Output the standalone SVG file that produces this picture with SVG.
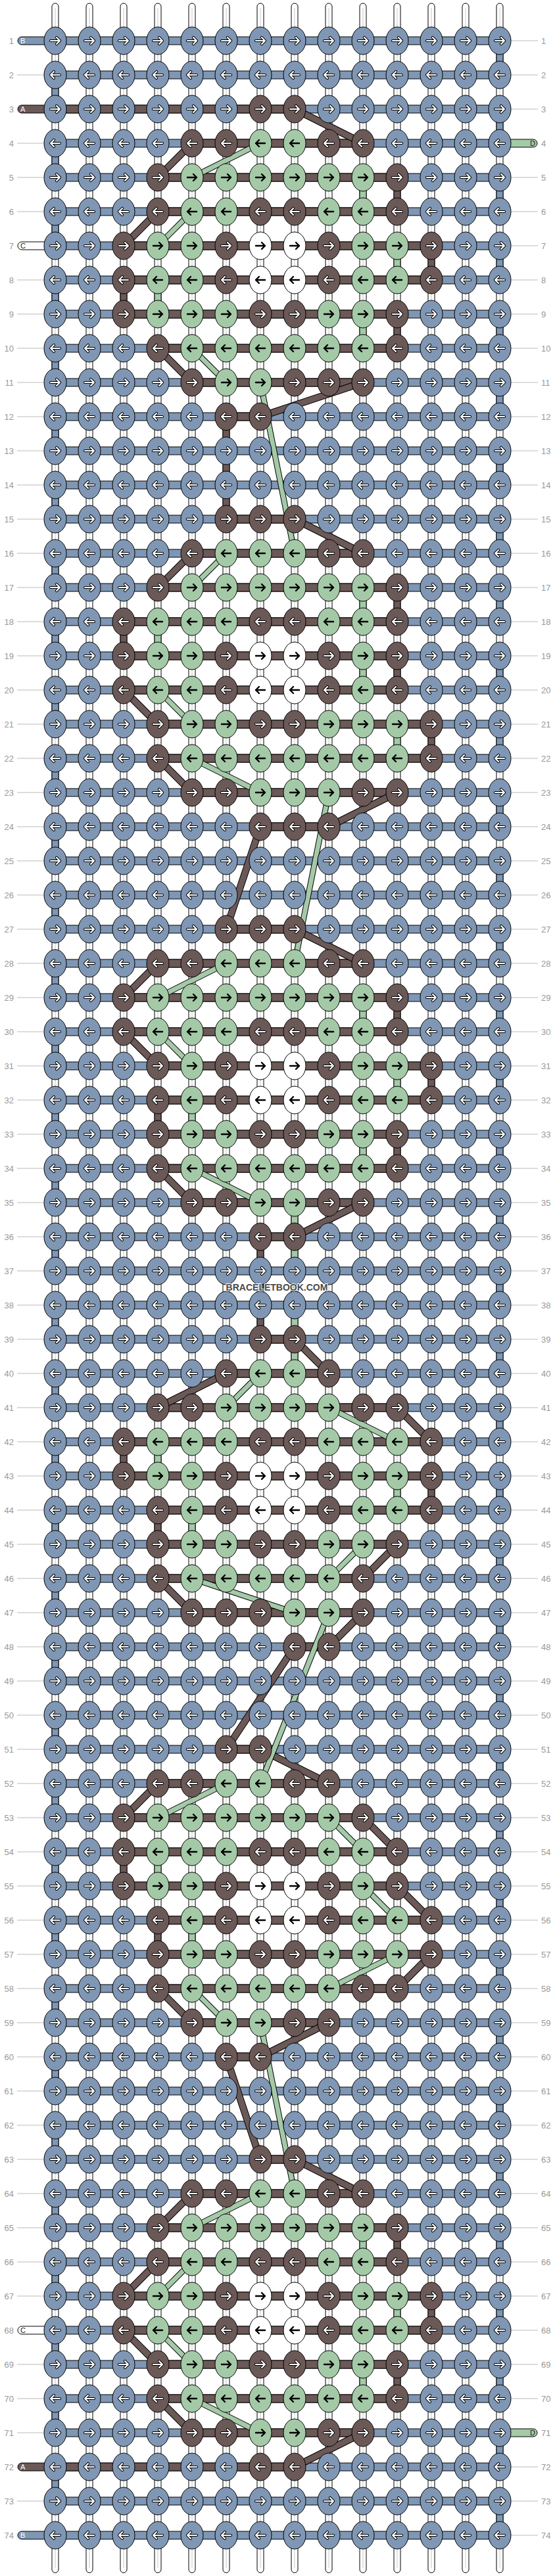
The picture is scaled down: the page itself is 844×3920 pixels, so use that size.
<svg xmlns="http://www.w3.org/2000/svg" xmlns:xlink="http://www.w3.org/1999/xlink" width="844" height="3920" viewBox="0 0 844 3920">
<style>
text{font-family:"Liberation Sans",Arial,sans-serif}
.ln{font-size:13px;fill:#999}
.le{text-anchor:end}
.sl{font-size:11px}
.gl{stroke:#bbb;stroke-width:1;fill:none}
.vs{fill:#fff;stroke:#000;stroke-width:1}
.vg{stroke:#c8c8c8;stroke-width:1;fill:none}
.cb{fill:#7f97b4;stroke:#000;stroke-width:1}
.cr{fill:#6b5957;stroke:#000;stroke-width:1}
.cg{fill:#a4c9a7;stroke:#000;stroke-width:1}
.cw{fill:#fff;stroke:#000;stroke-width:1}
.ao{fill:none;stroke:#000;stroke-width:4.2;stroke-linecap:round;stroke-linejoin:round}
.aw{fill:none;stroke:#fff;stroke-width:2.2;stroke-linecap:round;stroke-linejoin:round}
.ak{fill:none;stroke:#000;stroke-width:2.4;stroke-linecap:round;stroke-linejoin:round}
.dbo{fill:none;stroke:#000;stroke-width:11}
.dbi{fill:none;stroke:#6b5957;stroke-width:9}
.dgo{fill:none;stroke:#000;stroke-width:9}
.dgi{fill:none;stroke:#a4c9a7;stroke-width:7}
</style>
<defs>
<path id="ar" d="M-7,0H7M2,-5L7,0L2,5"/>
<path id="al" d="M7,0H-7M-2,-5L-7,0L-2,5"/>
<g id="Rb"><ellipse class="cb" rx="17" ry="21"/><use href="#ar" class="ao"/><use href="#ar" class="aw"/></g>
<g id="Rr"><ellipse class="cr" rx="17" ry="21"/><use href="#ar" class="ao"/><use href="#ar" class="aw"/></g>
<g id="Rg"><ellipse class="cg" rx="17" ry="21"/><use href="#ar" class="ak"/></g>
<g id="Rw"><ellipse class="cw" rx="17" ry="21"/><use href="#ar" class="ak"/></g>
<g id="Lb"><ellipse class="cb" rx="17" ry="21"/><use href="#al" class="ao"/><use href="#al" class="aw"/></g>
<g id="Lr"><ellipse class="cr" rx="17" ry="21"/><use href="#al" class="ao"/><use href="#al" class="aw"/></g>
<g id="Lg"><ellipse class="cg" rx="17" ry="21"/><use href="#al" class="ak"/></g>
<g id="Lw"><ellipse class="cw" rx="17" ry="21"/><use href="#al" class="ak"/></g>
<path id="dB" d="M448,166L552,218M292,218L240,270M240,322L188,374M240,530L292,582M552,582L396,634M448,790L552,842M292,842L240,894M188,1050L240,1102M240,1154L292,1206M604,1206L500,1258M396,1258L344,1414M448,1414L552,1466M240,1466L188,1518M188,1570L240,1622M240,1778L292,1830M552,1830L448,1882M448,2038L500,2090M344,2090L240,2142M604,2142L656,2194M604,2350L552,2402M240,2402L292,2454M552,2454L500,2506M448,2506L344,2662M396,2662L500,2714M240,2714L188,2766M552,2766L604,2818M604,2870L656,2922M656,2974L604,3026M240,3026L292,3078M500,3078L396,3130M344,3130L396,3286M448,3286L552,3338M292,3338L240,3390M240,3442L188,3494M188,3546L240,3598M240,3650L292,3702M552,3702L448,3754"/>
<path id="dG" d="M396,218L292,270M292,322L240,374M292,530L344,582M396,582L448,842M344,842L292,894M240,1050L292,1102M292,1154L396,1206M500,1206L448,1466M344,1466L240,1518M240,1570L292,1622M292,1778L396,1830M396,2090L344,2142M500,2142L604,2194M552,2350L500,2402M292,2402L448,2454M500,2454L396,2714M344,2714L240,2766M500,2766L552,2818M552,2870L604,2922M604,2974L500,3026M292,3026L344,3078M396,3078L448,3338M396,3338L292,3390M292,3442L240,3494M240,3546L292,3598M292,3650L396,3702"/>
</defs>
<rect width="844" height="3920" fill="#fff"/>
<g id="labels">
<path class="gl" d="M26,114h40M26,218h40M26,270h40M26,322h40M26,426h40M26,478h40M26,530h40M26,582h40M26,634h40M26,686h40M26,738h40M26,790h40M26,842h40M26,894h40M26,946h40M26,998h40M26,1050h40M26,1102h40M26,1154h40M26,1206h40M26,1258h40M26,1310h40M26,1362h40M26,1414h40M26,1466h40M26,1518h40M26,1570h40M26,1622h40M26,1674h40M26,1726h40M26,1778h40M26,1830h40M26,1882h40M26,1934h40M26,1986h40M26,2038h40M26,2090h40M26,2142h40M26,2194h40M26,2246h40M26,2298h40M26,2350h40M26,2402h40M26,2454h40M26,2506h40M26,2558h40M26,2610h40M26,2662h40M26,2714h40M26,2766h40M26,2818h40M26,2870h40M26,2922h40M26,2974h40M26,3026h40M26,3078h40M26,3130h40M26,3182h40M26,3234h40M26,3286h40M26,3338h40M26,3390h40M26,3442h40M26,3494h40M26,3598h40M26,3650h40M26,3702h40M26,3806h40
M778,62h40M778,114h40M778,166h40M778,270h40M778,322h40M778,374h40M778,426h40M778,478h40M778,530h40M778,582h40M778,634h40M778,686h40M778,738h40M778,790h40M778,842h40M778,894h40M778,946h40M778,998h40M778,1050h40M778,1102h40M778,1154h40M778,1206h40M778,1258h40M778,1310h40M778,1362h40M778,1414h40M778,1466h40M778,1518h40M778,1570h40M778,1622h40M778,1674h40M778,1726h40M778,1778h40M778,1830h40M778,1882h40M778,1934h40M778,1986h40M778,2038h40M778,2090h40M778,2142h40M778,2194h40M778,2246h40M778,2298h40M778,2350h40M778,2402h40M778,2454h40M778,2506h40M778,2558h40M778,2610h40M778,2662h40M778,2714h40M778,2766h40M778,2818h40M778,2870h40M778,2922h40M778,2974h40M778,3026h40M778,3078h40M778,3130h40M778,3182h40M778,3234h40M778,3286h40M778,3338h40M778,3390h40M778,3442h40M778,3494h40M778,3546h40M778,3598h40M778,3650h40M778,3754h40M778,3806h40M778,3858h40"/>
<text class="ln le" x="21" y="67">1</text><text class="ln le" x="21" y="119">2</text><text class="ln le" x="21" y="171">3</text><text class="ln le" x="21" y="223">4</text><text class="ln le" x="21" y="275">5</text><text class="ln le" x="21" y="327">6</text><text class="ln le" x="21" y="379">7</text><text class="ln le" x="21" y="431">8</text><text class="ln le" x="21" y="483">9</text><text class="ln le" x="21" y="535">10</text><text class="ln le" x="21" y="587">11</text><text class="ln le" x="21" y="639">12</text><text class="ln le" x="21" y="691">13</text><text class="ln le" x="21" y="743">14</text><text class="ln le" x="21" y="795">15</text><text class="ln le" x="21" y="847">16</text><text class="ln le" x="21" y="899">17</text><text class="ln le" x="21" y="951">18</text><text class="ln le" x="21" y="1003">19</text><text class="ln le" x="21" y="1055">20</text><text class="ln le" x="21" y="1107">21</text><text class="ln le" x="21" y="1159">22</text><text class="ln le" x="21" y="1211">23</text><text class="ln le" x="21" y="1263">24</text><text class="ln le" x="21" y="1315">25</text><text class="ln le" x="21" y="1367">26</text><text class="ln le" x="21" y="1419">27</text><text class="ln le" x="21" y="1471">28</text><text class="ln le" x="21" y="1523">29</text><text class="ln le" x="21" y="1575">30</text><text class="ln le" x="21" y="1627">31</text><text class="ln le" x="21" y="1679">32</text><text class="ln le" x="21" y="1731">33</text><text class="ln le" x="21" y="1783">34</text><text class="ln le" x="21" y="1835">35</text><text class="ln le" x="21" y="1887">36</text><text class="ln le" x="21" y="1939">37</text><text class="ln le" x="21" y="1991">38</text><text class="ln le" x="21" y="2043">39</text><text class="ln le" x="21" y="2095">40</text><text class="ln le" x="21" y="2147">41</text><text class="ln le" x="21" y="2199">42</text><text class="ln le" x="21" y="2251">43</text><text class="ln le" x="21" y="2303">44</text><text class="ln le" x="21" y="2355">45</text><text class="ln le" x="21" y="2407">46</text><text class="ln le" x="21" y="2459">47</text><text class="ln le" x="21" y="2511">48</text><text class="ln le" x="21" y="2563">49</text><text class="ln le" x="21" y="2615">50</text><text class="ln le" x="21" y="2667">51</text><text class="ln le" x="21" y="2719">52</text><text class="ln le" x="21" y="2771">53</text><text class="ln le" x="21" y="2823">54</text><text class="ln le" x="21" y="2875">55</text><text class="ln le" x="21" y="2927">56</text><text class="ln le" x="21" y="2979">57</text><text class="ln le" x="21" y="3031">58</text><text class="ln le" x="21" y="3083">59</text><text class="ln le" x="21" y="3135">60</text><text class="ln le" x="21" y="3187">61</text><text class="ln le" x="21" y="3239">62</text><text class="ln le" x="21" y="3291">63</text><text class="ln le" x="21" y="3343">64</text><text class="ln le" x="21" y="3395">65</text><text class="ln le" x="21" y="3447">66</text><text class="ln le" x="21" y="3499">67</text><text class="ln le" x="21" y="3551">68</text><text class="ln le" x="21" y="3603">69</text><text class="ln le" x="21" y="3655">70</text><text class="ln le" x="21" y="3707">71</text><text class="ln le" x="21" y="3759">72</text><text class="ln le" x="21" y="3811">73</text><text class="ln le" x="21" y="3863">74</text>
<text class="ln" x="823" y="67">1</text><text class="ln" x="823" y="119">2</text><text class="ln" x="823" y="171">3</text><text class="ln" x="823" y="223">4</text><text class="ln" x="823" y="275">5</text><text class="ln" x="823" y="327">6</text><text class="ln" x="823" y="379">7</text><text class="ln" x="823" y="431">8</text><text class="ln" x="823" y="483">9</text><text class="ln" x="823" y="535">10</text><text class="ln" x="823" y="587">11</text><text class="ln" x="823" y="639">12</text><text class="ln" x="823" y="691">13</text><text class="ln" x="823" y="743">14</text><text class="ln" x="823" y="795">15</text><text class="ln" x="823" y="847">16</text><text class="ln" x="823" y="899">17</text><text class="ln" x="823" y="951">18</text><text class="ln" x="823" y="1003">19</text><text class="ln" x="823" y="1055">20</text><text class="ln" x="823" y="1107">21</text><text class="ln" x="823" y="1159">22</text><text class="ln" x="823" y="1211">23</text><text class="ln" x="823" y="1263">24</text><text class="ln" x="823" y="1315">25</text><text class="ln" x="823" y="1367">26</text><text class="ln" x="823" y="1419">27</text><text class="ln" x="823" y="1471">28</text><text class="ln" x="823" y="1523">29</text><text class="ln" x="823" y="1575">30</text><text class="ln" x="823" y="1627">31</text><text class="ln" x="823" y="1679">32</text><text class="ln" x="823" y="1731">33</text><text class="ln" x="823" y="1783">34</text><text class="ln" x="823" y="1835">35</text><text class="ln" x="823" y="1887">36</text><text class="ln" x="823" y="1939">37</text><text class="ln" x="823" y="1991">38</text><text class="ln" x="823" y="2043">39</text><text class="ln" x="823" y="2095">40</text><text class="ln" x="823" y="2147">41</text><text class="ln" x="823" y="2199">42</text><text class="ln" x="823" y="2251">43</text><text class="ln" x="823" y="2303">44</text><text class="ln" x="823" y="2355">45</text><text class="ln" x="823" y="2407">46</text><text class="ln" x="823" y="2459">47</text><text class="ln" x="823" y="2511">48</text><text class="ln" x="823" y="2563">49</text><text class="ln" x="823" y="2615">50</text><text class="ln" x="823" y="2667">51</text><text class="ln" x="823" y="2719">52</text><text class="ln" x="823" y="2771">53</text><text class="ln" x="823" y="2823">54</text><text class="ln" x="823" y="2875">55</text><text class="ln" x="823" y="2927">56</text><text class="ln" x="823" y="2979">57</text><text class="ln" x="823" y="3031">58</text><text class="ln" x="823" y="3083">59</text><text class="ln" x="823" y="3135">60</text><text class="ln" x="823" y="3187">61</text><text class="ln" x="823" y="3239">62</text><text class="ln" x="823" y="3291">63</text><text class="ln" x="823" y="3343">64</text><text class="ln" x="823" y="3395">65</text><text class="ln" x="823" y="3447">66</text><text class="ln" x="823" y="3499">67</text><text class="ln" x="823" y="3551">68</text><text class="ln" x="823" y="3603">69</text><text class="ln" x="823" y="3655">70</text><text class="ln" x="823" y="3707">71</text><text class="ln" x="823" y="3759">72</text><text class="ln" x="823" y="3811">73</text><text class="ln" x="823" y="3863">74</text>
</g>
<g id="connectors">
<g id="vertical-strings">
<rect class="vs" x="79" y="5" width="10" height="3910" rx="5"/><rect class="vs" x="131" y="5" width="10" height="3910" rx="5"/><rect class="vs" x="183" y="5" width="10" height="3910" rx="5"/><rect class="vs" x="235" y="5" width="10" height="3910" rx="5"/><rect class="vs" x="287" y="5" width="10" height="3910" rx="5"/><rect class="vs" x="339" y="5" width="10" height="3910" rx="5"/><rect class="vs" x="391" y="5" width="10" height="3910" rx="5"/><rect class="vs" x="443" y="5" width="10" height="3910" rx="5"/><rect class="vs" x="495" y="5" width="10" height="3910" rx="5"/><rect class="vs" x="547" y="5" width="10" height="3910" rx="5"/><rect class="vs" x="599" y="5" width="10" height="3910" rx="5"/><rect class="vs" x="651" y="5" width="10" height="3910" rx="5"/><rect class="vs" x="703" y="5" width="10" height="3910" rx="5"/><rect class="vs" x="755" y="5" width="10" height="3910" rx="5"/>
<path class="vg" d="M84,12V3908M136,12V3908M188,12V3908M240,12V3908M292,12V3908M344,12V3908M396,12V3908M448,12V3908M500,12V3908M552,12V3908M604,12V3908M656,12V3908M708,12V3908M760,12V3908"/>
</g>
<path id="turns" class="cb" d="M755,62h10v52h-10zM79,114h10v52h-10zM755,166h10v52h-10zM79,218h10v52h-10zM755,270h10v52h-10zM79,322h10v52h-10zM755,374h10v52h-10zM79,426h10v52h-10zM755,478h10v52h-10zM79,530h10v52h-10zM755,582h10v52h-10zM79,634h10v52h-10zM755,686h10v52h-10zM79,738h10v52h-10zM755,790h10v52h-10zM79,842h10v52h-10zM755,894h10v52h-10zM79,946h10v52h-10zM755,998h10v52h-10zM79,1050h10v52h-10zM755,1102h10v52h-10zM79,1154h10v52h-10zM755,1206h10v52h-10zM79,1258h10v52h-10zM755,1310h10v52h-10zM79,1362h10v52h-10zM755,1414h10v52h-10zM79,1466h10v52h-10zM755,1518h10v52h-10zM79,1570h10v52h-10zM755,1622h10v52h-10zM79,1674h10v52h-10zM755,1726h10v52h-10zM79,1778h10v52h-10zM755,1830h10v52h-10zM79,1882h10v52h-10zM755,1934h10v52h-10zM79,1986h10v52h-10zM755,2038h10v52h-10zM79,2090h10v52h-10zM755,2142h10v52h-10zM79,2194h10v52h-10zM755,2246h10v52h-10zM79,2298h10v52h-10zM755,2350h10v52h-10zM79,2402h10v52h-10zM755,2454h10v52h-10zM79,2506h10v52h-10zM755,2558h10v52h-10zM79,2610h10v52h-10zM755,2662h10v52h-10zM79,2714h10v52h-10zM755,2766h10v52h-10zM79,2818h10v52h-10zM755,2870h10v52h-10zM79,2922h10v52h-10zM755,2974h10v52h-10zM79,3026h10v52h-10zM755,3078h10v52h-10zM79,3130h10v52h-10zM755,3182h10v52h-10zM79,3234h10v52h-10zM755,3286h10v52h-10zM79,3338h10v52h-10zM755,3390h10v52h-10zM79,3442h10v52h-10zM755,3494h10v52h-10zM79,3546h10v52h-10zM755,3598h10v52h-10zM79,3650h10v52h-10zM755,3702h10v52h-10zM79,3754h10v52h-10zM755,3806h10v52h-10z"/>
<path id="vbrown" class="cr" d="M599,270h10v52h-10zM651,374h10v52h-10zM183,426h10v52h-10zM599,478h10v52h-10zM339,634h10v156h-10zM599,894h10v52h-10zM183,946h10v52h-10zM599,998h10v52h-10zM651,1102h10v52h-10zM599,1518h10v52h-10zM651,1622h10v52h-10zM235,1674h10v52h-10zM599,1726h10v52h-10zM391,1882h10v156h-10zM183,2194h10v52h-10zM651,2246h10v52h-10zM235,2298h10v52h-10zM183,2818h10v52h-10zM235,2922h10v52h-10zM599,3390h10v52h-10zM651,3494h10v52h-10zM599,3598h10v52h-10z"/>
<path id="vgreen" class="cg" d="M547,270h10v52h-10zM599,374h10v52h-10zM235,426h10v52h-10zM547,478h10v52h-10zM547,894h10v52h-10zM235,946h10v52h-10zM547,998h10v52h-10zM599,1102h10v52h-10zM547,1518h10v52h-10zM599,1622h10v52h-10zM287,1674h10v52h-10zM547,1726h10v52h-10zM443,1830h10v260h-10zM235,2194h10v52h-10zM599,2246h10v52h-10zM287,2298h10v52h-10zM235,2818h10v52h-10zM287,2922h10v52h-10zM547,3390h10v52h-10zM599,3494h10v52h-10zM547,3598h10v52h-10z"/>
<path id="hblue" class="cb" d="M84,56h676v12h-676zM84,108h676v12h-676zM84,160h676v12h-676zM84,212h676v12h-676zM84,264h676v12h-676zM84,316h676v12h-676zM84,368h676v12h-676zM84,420h676v12h-676zM84,472h676v12h-676zM84,524h676v12h-676zM84,576h676v12h-676zM84,628h676v12h-676zM84,680h676v12h-676zM84,732h676v12h-676zM84,784h676v12h-676zM84,836h676v12h-676zM84,888h676v12h-676zM84,940h676v12h-676zM84,992h676v12h-676zM84,1044h676v12h-676zM84,1096h676v12h-676zM84,1148h676v12h-676zM84,1200h676v12h-676zM84,1252h676v12h-676zM84,1304h676v12h-676zM84,1356h676v12h-676zM84,1408h676v12h-676zM84,1460h676v12h-676zM84,1512h676v12h-676zM84,1564h676v12h-676zM84,1616h676v12h-676zM84,1668h676v12h-676zM84,1720h676v12h-676zM84,1772h676v12h-676zM84,1824h676v12h-676zM84,1876h676v12h-676zM84,1928h676v12h-676zM84,1980h676v12h-676zM84,2032h676v12h-676zM84,2084h676v12h-676zM84,2136h676v12h-676zM84,2188h676v12h-676zM84,2240h676v12h-676zM84,2292h676v12h-676zM84,2344h676v12h-676zM84,2396h676v12h-676zM84,2448h676v12h-676zM84,2500h676v12h-676zM84,2552h676v12h-676zM84,2604h676v12h-676zM84,2656h676v12h-676zM84,2708h676v12h-676zM84,2760h676v12h-676zM84,2812h676v12h-676zM84,2864h676v12h-676zM84,2916h676v12h-676zM84,2968h676v12h-676zM84,3020h676v12h-676zM84,3072h676v12h-676zM84,3124h676v12h-676zM84,3176h676v12h-676zM84,3228h676v12h-676zM84,3280h676v12h-676zM84,3332h676v12h-676zM84,3384h676v12h-676zM84,3436h676v12h-676zM84,3488h676v12h-676zM84,3540h676v12h-676zM84,3592h676v12h-676zM84,3644h676v12h-676zM84,3696h676v12h-676zM84,3748h676v12h-676zM84,3800h676v12h-676zM84,3852h676v12h-676z"/>
<path id="hbrown" class="cr" d="M292,212h260v12h-260zM240,264h364v12h-364zM240,316h364v12h-364zM188,368h468v12h-468zM188,420h468v12h-468zM188,472h416v12h-416zM240,524h364v12h-364zM292,576h260v12h-260zM344,628h52v12h-52zM344,784h104v12h-104zM292,836h260v12h-260zM240,888h364v12h-364zM188,940h416v12h-416zM188,992h416v12h-416zM188,1044h416v12h-416zM240,1096h416v12h-416zM240,1148h416v12h-416zM292,1200h312v12h-312zM396,1252h104v12h-104zM344,1408h104v12h-104zM240,1460h312v12h-312zM188,1512h416v12h-416zM188,1564h416v12h-416zM240,1616h416v12h-416zM240,1668h416v12h-416zM240,1720h364v12h-364zM240,1772h364v12h-364zM292,1824h260v12h-260zM396,1876h52v12h-52zM396,2032h52v12h-52zM344,2084h156v12h-156zM240,2136h364v12h-364zM188,2188h468v12h-468zM188,2240h468v12h-468zM240,2292h416v12h-416zM240,2344h364v12h-364zM240,2396h312v12h-312zM292,2448h260v12h-260zM448,2500h52v12h-52zM344,2656h52v12h-52zM240,2708h260v12h-260zM188,2760h364v12h-364zM188,2812h416v12h-416zM188,2864h416v12h-416zM240,2916h416v12h-416zM240,2968h416v12h-416zM240,3020h364v12h-364zM292,3072h208v12h-208zM344,3124h52v12h-52zM396,3280h52v12h-52zM292,3332h260v12h-260zM240,3384h364v12h-364zM240,3436h364v12h-364zM188,3488h468v12h-468zM188,3540h468v12h-468zM240,3592h364v12h-364zM240,3644h364v12h-364zM292,3696h260v12h-260z"/>
<g id="side-strings">
<path class="cb" d="M84,56H33a6,6 0 0 0 0,12H84z"/><text class="sl" x="31" y="66" fill="#fff">B</text>
<path class="cr" d="M448,160H33a6,6 0 0 0 0,12H448z"/><text class="sl" x="31" y="170" fill="#fff">A</text>
<path class="cg" d="M760,212H811a6,6 0 0 1 0,12H760z"/><text class="sl" x="806" y="222" fill="#222">D</text>
<path class="cw" d="M84,368H33a6,6 0 0 0 0,12H84z"/><text class="sl" x="31" y="378" fill="#222">C</text>
<path class="cw" d="M84,3540H33a6,6 0 0 0 0,12H84z"/><text class="sl" x="31" y="3550" fill="#222">C</text>
<path class="cg" d="M760,3696H811a6,6 0 0 1 0,12H760z"/><text class="sl" x="806" y="3706" fill="#222">D</text>
<path class="cr" d="M448,3748H33a6,6 0 0 0 0,12H448z"/><text class="sl" x="31" y="3758" fill="#fff">A</text>
<path class="cb" d="M84,3852H33a6,6 0 0 0 0,12H84z"/><text class="sl" x="31" y="3862" fill="#fff">B</text>
</g>
<g id="diagonals">
<use href="#dB" class="dbo"/><use href="#dB" class="dbi"/><use href="#dG" class="dgo"/><use href="#dG" class="dgi"/>
</g>
</g>
<g id="knots">
<g id="row1" transform="translate(0,62)"><g id="k1_1"><use href="#Rb" x="84"/></g><g id="k1_2"><use href="#Rb" x="136"/></g><g id="k1_3"><use href="#Rb" x="188"/></g><g id="k1_4"><use href="#Rb" x="240"/></g><g id="k1_5"><use href="#Rb" x="292"/></g><g id="k1_6"><use href="#Rb" x="344"/></g><g id="k1_7"><use href="#Rb" x="396"/></g><g id="k1_8"><use href="#Rb" x="448"/></g><g id="k1_9"><use href="#Rb" x="500"/></g><g id="k1_10"><use href="#Rb" x="552"/></g><g id="k1_11"><use href="#Rb" x="604"/></g><g id="k1_12"><use href="#Rb" x="656"/></g><g id="k1_13"><use href="#Rb" x="708"/></g><g id="k1_14"><use href="#Rb" x="760"/></g></g>
<g id="row2" transform="translate(0,114)"><g id="k2_1"><use href="#Lb" x="84"/></g><g id="k2_2"><use href="#Lb" x="136"/></g><g id="k2_3"><use href="#Lb" x="188"/></g><g id="k2_4"><use href="#Lb" x="240"/></g><g id="k2_5"><use href="#Lb" x="292"/></g><g id="k2_6"><use href="#Lb" x="344"/></g><g id="k2_7"><use href="#Lb" x="396"/></g><g id="k2_8"><use href="#Lb" x="448"/></g><g id="k2_9"><use href="#Lb" x="500"/></g><g id="k2_10"><use href="#Lb" x="552"/></g><g id="k2_11"><use href="#Lb" x="604"/></g><g id="k2_12"><use href="#Lb" x="656"/></g><g id="k2_13"><use href="#Lb" x="708"/></g><g id="k2_14"><use href="#Lb" x="760"/></g></g>
<g id="row3" transform="translate(0,166)"><g id="k3_1"><use href="#Rb" x="84"/></g><g id="k3_2"><use href="#Rb" x="136"/></g><g id="k3_3"><use href="#Rb" x="188"/></g><g id="k3_4"><use href="#Rb" x="240"/></g><g id="k3_5"><use href="#Rb" x="292"/></g><g id="k3_6"><use href="#Rb" x="344"/></g><g id="k3_7"><use href="#Rr" x="396"/></g><g id="k3_8"><use href="#Rr" x="448"/></g><g id="k3_9"><use href="#Rb" x="500"/></g><g id="k3_10"><use href="#Rb" x="552"/></g><g id="k3_11"><use href="#Rb" x="604"/></g><g id="k3_12"><use href="#Rb" x="656"/></g><g id="k3_13"><use href="#Rb" x="708"/></g><g id="k3_14"><use href="#Rb" x="760"/></g></g>
<g id="row4" transform="translate(0,218)"><g id="k4_1"><use href="#Lb" x="84"/></g><g id="k4_2"><use href="#Lb" x="136"/></g><g id="k4_3"><use href="#Lb" x="188"/></g><g id="k4_4"><use href="#Lb" x="240"/></g><g id="k4_5"><use href="#Lr" x="292"/></g><g id="k4_6"><use href="#Lr" x="344"/></g><g id="k4_7"><use href="#Lg" x="396"/></g><g id="k4_8"><use href="#Lg" x="448"/></g><g id="k4_9"><use href="#Lr" x="500"/></g><g id="k4_10"><use href="#Lr" x="552"/></g><g id="k4_11"><use href="#Lb" x="604"/></g><g id="k4_12"><use href="#Lb" x="656"/></g><g id="k4_13"><use href="#Lb" x="708"/></g><g id="k4_14"><use href="#Lb" x="760"/></g></g>
<g id="row5" transform="translate(0,270)"><g id="k5_1"><use href="#Rb" x="84"/></g><g id="k5_2"><use href="#Rb" x="136"/></g><g id="k5_3"><use href="#Rb" x="188"/></g><g id="k5_4"><use href="#Rr" x="240"/></g><g id="k5_5"><use href="#Rg" x="292"/></g><g id="k5_6"><use href="#Rg" x="344"/></g><g id="k5_7"><use href="#Rg" x="396"/></g><g id="k5_8"><use href="#Rg" x="448"/></g><g id="k5_9"><use href="#Rg" x="500"/></g><g id="k5_10"><use href="#Rg" x="552"/></g><g id="k5_11"><use href="#Rr" x="604"/></g><g id="k5_12"><use href="#Rb" x="656"/></g><g id="k5_13"><use href="#Rb" x="708"/></g><g id="k5_14"><use href="#Rb" x="760"/></g></g>
<g id="row6" transform="translate(0,322)"><g id="k6_1"><use href="#Lb" x="84"/></g><g id="k6_2"><use href="#Lb" x="136"/></g><g id="k6_3"><use href="#Lb" x="188"/></g><g id="k6_4"><use href="#Lr" x="240"/></g><g id="k6_5"><use href="#Lg" x="292"/></g><g id="k6_6"><use href="#Lg" x="344"/></g><g id="k6_7"><use href="#Lr" x="396"/></g><g id="k6_8"><use href="#Lr" x="448"/></g><g id="k6_9"><use href="#Lg" x="500"/></g><g id="k6_10"><use href="#Lg" x="552"/></g><g id="k6_11"><use href="#Lr" x="604"/></g><g id="k6_12"><use href="#Lb" x="656"/></g><g id="k6_13"><use href="#Lb" x="708"/></g><g id="k6_14"><use href="#Lb" x="760"/></g></g>
<g id="row7" transform="translate(0,374)"><g id="k7_1"><use href="#Rb" x="84"/></g><g id="k7_2"><use href="#Rb" x="136"/></g><g id="k7_3"><use href="#Rr" x="188"/></g><g id="k7_4"><use href="#Rg" x="240"/></g><g id="k7_5"><use href="#Rg" x="292"/></g><g id="k7_6"><use href="#Rr" x="344"/></g><g id="k7_7"><use href="#Rw" x="396"/></g><g id="k7_8"><use href="#Rw" x="448"/></g><g id="k7_9"><use href="#Rr" x="500"/></g><g id="k7_10"><use href="#Rg" x="552"/></g><g id="k7_11"><use href="#Rg" x="604"/></g><g id="k7_12"><use href="#Rr" x="656"/></g><g id="k7_13"><use href="#Rb" x="708"/></g><g id="k7_14"><use href="#Rb" x="760"/></g></g>
<g id="row8" transform="translate(0,426)"><g id="k8_1"><use href="#Lb" x="84"/></g><g id="k8_2"><use href="#Lb" x="136"/></g><g id="k8_3"><use href="#Lr" x="188"/></g><g id="k8_4"><use href="#Lg" x="240"/></g><g id="k8_5"><use href="#Lg" x="292"/></g><g id="k8_6"><use href="#Lr" x="344"/></g><g id="k8_7"><use href="#Lw" x="396"/></g><g id="k8_8"><use href="#Lw" x="448"/></g><g id="k8_9"><use href="#Lr" x="500"/></g><g id="k8_10"><use href="#Lg" x="552"/></g><g id="k8_11"><use href="#Lg" x="604"/></g><g id="k8_12"><use href="#Lr" x="656"/></g><g id="k8_13"><use href="#Lb" x="708"/></g><g id="k8_14"><use href="#Lb" x="760"/></g></g>
<g id="row9" transform="translate(0,478)"><g id="k9_1"><use href="#Rb" x="84"/></g><g id="k9_2"><use href="#Rb" x="136"/></g><g id="k9_3"><use href="#Rr" x="188"/></g><g id="k9_4"><use href="#Rg" x="240"/></g><g id="k9_5"><use href="#Rg" x="292"/></g><g id="k9_6"><use href="#Rg" x="344"/></g><g id="k9_7"><use href="#Rr" x="396"/></g><g id="k9_8"><use href="#Rr" x="448"/></g><g id="k9_9"><use href="#Rg" x="500"/></g><g id="k9_10"><use href="#Rg" x="552"/></g><g id="k9_11"><use href="#Rr" x="604"/></g><g id="k9_12"><use href="#Rb" x="656"/></g><g id="k9_13"><use href="#Rb" x="708"/></g><g id="k9_14"><use href="#Rb" x="760"/></g></g>
<g id="row10" transform="translate(0,530)"><g id="k10_1"><use href="#Lb" x="84"/></g><g id="k10_2"><use href="#Lb" x="136"/></g><g id="k10_3"><use href="#Lb" x="188"/></g><g id="k10_4"><use href="#Lr" x="240"/></g><g id="k10_5"><use href="#Lg" x="292"/></g><g id="k10_6"><use href="#Lg" x="344"/></g><g id="k10_7"><use href="#Lg" x="396"/></g><g id="k10_8"><use href="#Lg" x="448"/></g><g id="k10_9"><use href="#Lg" x="500"/></g><g id="k10_10"><use href="#Lg" x="552"/></g><g id="k10_11"><use href="#Lr" x="604"/></g><g id="k10_12"><use href="#Lb" x="656"/></g><g id="k10_13"><use href="#Lb" x="708"/></g><g id="k10_14"><use href="#Lb" x="760"/></g></g>
<g id="row11" transform="translate(0,582)"><g id="k11_1"><use href="#Rb" x="84"/></g><g id="k11_2"><use href="#Rb" x="136"/></g><g id="k11_3"><use href="#Rb" x="188"/></g><g id="k11_4"><use href="#Rb" x="240"/></g><g id="k11_5"><use href="#Rr" x="292"/></g><g id="k11_6"><use href="#Rg" x="344"/></g><g id="k11_7"><use href="#Rg" x="396"/></g><g id="k11_8"><use href="#Rr" x="448"/></g><g id="k11_9"><use href="#Rr" x="500"/></g><g id="k11_10"><use href="#Rr" x="552"/></g><g id="k11_11"><use href="#Rb" x="604"/></g><g id="k11_12"><use href="#Rb" x="656"/></g><g id="k11_13"><use href="#Rb" x="708"/></g><g id="k11_14"><use href="#Rb" x="760"/></g></g>
<g id="row12" transform="translate(0,634)"><g id="k12_1"><use href="#Lb" x="84"/></g><g id="k12_2"><use href="#Lb" x="136"/></g><g id="k12_3"><use href="#Lb" x="188"/></g><g id="k12_4"><use href="#Lb" x="240"/></g><g id="k12_5"><use href="#Lb" x="292"/></g><g id="k12_6"><use href="#Lr" x="344"/></g><g id="k12_7"><use href="#Lr" x="396"/></g><g id="k12_8"><use href="#Lb" x="448"/></g><g id="k12_9"><use href="#Lb" x="500"/></g><g id="k12_10"><use href="#Lb" x="552"/></g><g id="k12_11"><use href="#Lb" x="604"/></g><g id="k12_12"><use href="#Lb" x="656"/></g><g id="k12_13"><use href="#Lb" x="708"/></g><g id="k12_14"><use href="#Lb" x="760"/></g></g>
<g id="row13" transform="translate(0,686)"><g id="k13_1"><use href="#Rb" x="84"/></g><g id="k13_2"><use href="#Rb" x="136"/></g><g id="k13_3"><use href="#Rb" x="188"/></g><g id="k13_4"><use href="#Rb" x="240"/></g><g id="k13_5"><use href="#Rb" x="292"/></g><g id="k13_6"><use href="#Rb" x="344"/></g><g id="k13_7"><use href="#Rb" x="396"/></g><g id="k13_8"><use href="#Rb" x="448"/></g><g id="k13_9"><use href="#Rb" x="500"/></g><g id="k13_10"><use href="#Rb" x="552"/></g><g id="k13_11"><use href="#Rb" x="604"/></g><g id="k13_12"><use href="#Rb" x="656"/></g><g id="k13_13"><use href="#Rb" x="708"/></g><g id="k13_14"><use href="#Rb" x="760"/></g></g>
<g id="row14" transform="translate(0,738)"><g id="k14_1"><use href="#Lb" x="84"/></g><g id="k14_2"><use href="#Lb" x="136"/></g><g id="k14_3"><use href="#Lb" x="188"/></g><g id="k14_4"><use href="#Lb" x="240"/></g><g id="k14_5"><use href="#Lb" x="292"/></g><g id="k14_6"><use href="#Lb" x="344"/></g><g id="k14_7"><use href="#Lb" x="396"/></g><g id="k14_8"><use href="#Lb" x="448"/></g><g id="k14_9"><use href="#Lb" x="500"/></g><g id="k14_10"><use href="#Lb" x="552"/></g><g id="k14_11"><use href="#Lb" x="604"/></g><g id="k14_12"><use href="#Lb" x="656"/></g><g id="k14_13"><use href="#Lb" x="708"/></g><g id="k14_14"><use href="#Lb" x="760"/></g></g>
<g id="row15" transform="translate(0,790)"><g id="k15_1"><use href="#Rb" x="84"/></g><g id="k15_2"><use href="#Rb" x="136"/></g><g id="k15_3"><use href="#Rb" x="188"/></g><g id="k15_4"><use href="#Rb" x="240"/></g><g id="k15_5"><use href="#Rb" x="292"/></g><g id="k15_6"><use href="#Rr" x="344"/></g><g id="k15_7"><use href="#Rr" x="396"/></g><g id="k15_8"><use href="#Rr" x="448"/></g><g id="k15_9"><use href="#Rb" x="500"/></g><g id="k15_10"><use href="#Rb" x="552"/></g><g id="k15_11"><use href="#Rb" x="604"/></g><g id="k15_12"><use href="#Rb" x="656"/></g><g id="k15_13"><use href="#Rb" x="708"/></g><g id="k15_14"><use href="#Rb" x="760"/></g></g>
<g id="row16" transform="translate(0,842)"><g id="k16_1"><use href="#Lb" x="84"/></g><g id="k16_2"><use href="#Lb" x="136"/></g><g id="k16_3"><use href="#Lb" x="188"/></g><g id="k16_4"><use href="#Lb" x="240"/></g><g id="k16_5"><use href="#Lr" x="292"/></g><g id="k16_6"><use href="#Lg" x="344"/></g><g id="k16_7"><use href="#Lg" x="396"/></g><g id="k16_8"><use href="#Lg" x="448"/></g><g id="k16_9"><use href="#Lr" x="500"/></g><g id="k16_10"><use href="#Lr" x="552"/></g><g id="k16_11"><use href="#Lb" x="604"/></g><g id="k16_12"><use href="#Lb" x="656"/></g><g id="k16_13"><use href="#Lb" x="708"/></g><g id="k16_14"><use href="#Lb" x="760"/></g></g>
<g id="row17" transform="translate(0,894)"><g id="k17_1"><use href="#Rb" x="84"/></g><g id="k17_2"><use href="#Rb" x="136"/></g><g id="k17_3"><use href="#Rb" x="188"/></g><g id="k17_4"><use href="#Rr" x="240"/></g><g id="k17_5"><use href="#Rg" x="292"/></g><g id="k17_6"><use href="#Rg" x="344"/></g><g id="k17_7"><use href="#Rg" x="396"/></g><g id="k17_8"><use href="#Rg" x="448"/></g><g id="k17_9"><use href="#Rg" x="500"/></g><g id="k17_10"><use href="#Rg" x="552"/></g><g id="k17_11"><use href="#Rr" x="604"/></g><g id="k17_12"><use href="#Rb" x="656"/></g><g id="k17_13"><use href="#Rb" x="708"/></g><g id="k17_14"><use href="#Rb" x="760"/></g></g>
<g id="row18" transform="translate(0,946)"><g id="k18_1"><use href="#Lb" x="84"/></g><g id="k18_2"><use href="#Lb" x="136"/></g><g id="k18_3"><use href="#Lr" x="188"/></g><g id="k18_4"><use href="#Lg" x="240"/></g><g id="k18_5"><use href="#Lg" x="292"/></g><g id="k18_6"><use href="#Lg" x="344"/></g><g id="k18_7"><use href="#Lr" x="396"/></g><g id="k18_8"><use href="#Lr" x="448"/></g><g id="k18_9"><use href="#Lg" x="500"/></g><g id="k18_10"><use href="#Lg" x="552"/></g><g id="k18_11"><use href="#Lr" x="604"/></g><g id="k18_12"><use href="#Lb" x="656"/></g><g id="k18_13"><use href="#Lb" x="708"/></g><g id="k18_14"><use href="#Lb" x="760"/></g></g>
<g id="row19" transform="translate(0,998)"><g id="k19_1"><use href="#Rb" x="84"/></g><g id="k19_2"><use href="#Rb" x="136"/></g><g id="k19_3"><use href="#Rr" x="188"/></g><g id="k19_4"><use href="#Rg" x="240"/></g><g id="k19_5"><use href="#Rg" x="292"/></g><g id="k19_6"><use href="#Rr" x="344"/></g><g id="k19_7"><use href="#Rw" x="396"/></g><g id="k19_8"><use href="#Rw" x="448"/></g><g id="k19_9"><use href="#Rr" x="500"/></g><g id="k19_10"><use href="#Rg" x="552"/></g><g id="k19_11"><use href="#Rr" x="604"/></g><g id="k19_12"><use href="#Rb" x="656"/></g><g id="k19_13"><use href="#Rb" x="708"/></g><g id="k19_14"><use href="#Rb" x="760"/></g></g>
<g id="row20" transform="translate(0,1050)"><g id="k20_1"><use href="#Lb" x="84"/></g><g id="k20_2"><use href="#Lb" x="136"/></g><g id="k20_3"><use href="#Lr" x="188"/></g><g id="k20_4"><use href="#Lg" x="240"/></g><g id="k20_5"><use href="#Lg" x="292"/></g><g id="k20_6"><use href="#Lr" x="344"/></g><g id="k20_7"><use href="#Lw" x="396"/></g><g id="k20_8"><use href="#Lw" x="448"/></g><g id="k20_9"><use href="#Lr" x="500"/></g><g id="k20_10"><use href="#Lg" x="552"/></g><g id="k20_11"><use href="#Lr" x="604"/></g><g id="k20_12"><use href="#Lb" x="656"/></g><g id="k20_13"><use href="#Lb" x="708"/></g><g id="k20_14"><use href="#Lb" x="760"/></g></g>
<g id="row21" transform="translate(0,1102)"><g id="k21_1"><use href="#Rb" x="84"/></g><g id="k21_2"><use href="#Rb" x="136"/></g><g id="k21_3"><use href="#Rb" x="188"/></g><g id="k21_4"><use href="#Rr" x="240"/></g><g id="k21_5"><use href="#Rg" x="292"/></g><g id="k21_6"><use href="#Rg" x="344"/></g><g id="k21_7"><use href="#Rr" x="396"/></g><g id="k21_8"><use href="#Rr" x="448"/></g><g id="k21_9"><use href="#Rg" x="500"/></g><g id="k21_10"><use href="#Rg" x="552"/></g><g id="k21_11"><use href="#Rg" x="604"/></g><g id="k21_12"><use href="#Rr" x="656"/></g><g id="k21_13"><use href="#Rb" x="708"/></g><g id="k21_14"><use href="#Rb" x="760"/></g></g>
<g id="row22" transform="translate(0,1154)"><g id="k22_1"><use href="#Lb" x="84"/></g><g id="k22_2"><use href="#Lb" x="136"/></g><g id="k22_3"><use href="#Lb" x="188"/></g><g id="k22_4"><use href="#Lr" x="240"/></g><g id="k22_5"><use href="#Lg" x="292"/></g><g id="k22_6"><use href="#Lg" x="344"/></g><g id="k22_7"><use href="#Lg" x="396"/></g><g id="k22_8"><use href="#Lg" x="448"/></g><g id="k22_9"><use href="#Lg" x="500"/></g><g id="k22_10"><use href="#Lg" x="552"/></g><g id="k22_11"><use href="#Lg" x="604"/></g><g id="k22_12"><use href="#Lr" x="656"/></g><g id="k22_13"><use href="#Lb" x="708"/></g><g id="k22_14"><use href="#Lb" x="760"/></g></g>
<g id="row23" transform="translate(0,1206)"><g id="k23_1"><use href="#Rb" x="84"/></g><g id="k23_2"><use href="#Rb" x="136"/></g><g id="k23_3"><use href="#Rb" x="188"/></g><g id="k23_4"><use href="#Rb" x="240"/></g><g id="k23_5"><use href="#Rr" x="292"/></g><g id="k23_6"><use href="#Rr" x="344"/></g><g id="k23_7"><use href="#Rg" x="396"/></g><g id="k23_8"><use href="#Rg" x="448"/></g><g id="k23_9"><use href="#Rg" x="500"/></g><g id="k23_10"><use href="#Rr" x="552"/></g><g id="k23_11"><use href="#Rr" x="604"/></g><g id="k23_12"><use href="#Rb" x="656"/></g><g id="k23_13"><use href="#Rb" x="708"/></g><g id="k23_14"><use href="#Rb" x="760"/></g></g>
<g id="row24" transform="translate(0,1258)"><g id="k24_1"><use href="#Lb" x="84"/></g><g id="k24_2"><use href="#Lb" x="136"/></g><g id="k24_3"><use href="#Lb" x="188"/></g><g id="k24_4"><use href="#Lb" x="240"/></g><g id="k24_5"><use href="#Lb" x="292"/></g><g id="k24_6"><use href="#Lb" x="344"/></g><g id="k24_7"><use href="#Lr" x="396"/></g><g id="k24_8"><use href="#Lr" x="448"/></g><g id="k24_9"><use href="#Lr" x="500"/></g><g id="k24_10"><use href="#Lb" x="552"/></g><g id="k24_11"><use href="#Lb" x="604"/></g><g id="k24_12"><use href="#Lb" x="656"/></g><g id="k24_13"><use href="#Lb" x="708"/></g><g id="k24_14"><use href="#Lb" x="760"/></g></g>
<g id="row25" transform="translate(0,1310)"><g id="k25_1"><use href="#Rb" x="84"/></g><g id="k25_2"><use href="#Rb" x="136"/></g><g id="k25_3"><use href="#Rb" x="188"/></g><g id="k25_4"><use href="#Rb" x="240"/></g><g id="k25_5"><use href="#Rb" x="292"/></g><g id="k25_6"><use href="#Rb" x="344"/></g><g id="k25_7"><use href="#Rb" x="396"/></g><g id="k25_8"><use href="#Rb" x="448"/></g><g id="k25_9"><use href="#Rb" x="500"/></g><g id="k25_10"><use href="#Rb" x="552"/></g><g id="k25_11"><use href="#Rb" x="604"/></g><g id="k25_12"><use href="#Rb" x="656"/></g><g id="k25_13"><use href="#Rb" x="708"/></g><g id="k25_14"><use href="#Rb" x="760"/></g></g>
<g id="row26" transform="translate(0,1362)"><g id="k26_1"><use href="#Lb" x="84"/></g><g id="k26_2"><use href="#Lb" x="136"/></g><g id="k26_3"><use href="#Lb" x="188"/></g><g id="k26_4"><use href="#Lb" x="240"/></g><g id="k26_5"><use href="#Lb" x="292"/></g><g id="k26_6"><use href="#Lb" x="344"/></g><g id="k26_7"><use href="#Lb" x="396"/></g><g id="k26_8"><use href="#Lb" x="448"/></g><g id="k26_9"><use href="#Lb" x="500"/></g><g id="k26_10"><use href="#Lb" x="552"/></g><g id="k26_11"><use href="#Lb" x="604"/></g><g id="k26_12"><use href="#Lb" x="656"/></g><g id="k26_13"><use href="#Lb" x="708"/></g><g id="k26_14"><use href="#Lb" x="760"/></g></g>
<g id="row27" transform="translate(0,1414)"><g id="k27_1"><use href="#Rb" x="84"/></g><g id="k27_2"><use href="#Rb" x="136"/></g><g id="k27_3"><use href="#Rb" x="188"/></g><g id="k27_4"><use href="#Rb" x="240"/></g><g id="k27_5"><use href="#Rb" x="292"/></g><g id="k27_6"><use href="#Rr" x="344"/></g><g id="k27_7"><use href="#Rr" x="396"/></g><g id="k27_8"><use href="#Rr" x="448"/></g><g id="k27_9"><use href="#Rb" x="500"/></g><g id="k27_10"><use href="#Rb" x="552"/></g><g id="k27_11"><use href="#Rb" x="604"/></g><g id="k27_12"><use href="#Rb" x="656"/></g><g id="k27_13"><use href="#Rb" x="708"/></g><g id="k27_14"><use href="#Rb" x="760"/></g></g>
<g id="row28" transform="translate(0,1466)"><g id="k28_1"><use href="#Lb" x="84"/></g><g id="k28_2"><use href="#Lb" x="136"/></g><g id="k28_3"><use href="#Lb" x="188"/></g><g id="k28_4"><use href="#Lr" x="240"/></g><g id="k28_5"><use href="#Lr" x="292"/></g><g id="k28_6"><use href="#Lg" x="344"/></g><g id="k28_7"><use href="#Lg" x="396"/></g><g id="k28_8"><use href="#Lg" x="448"/></g><g id="k28_9"><use href="#Lr" x="500"/></g><g id="k28_10"><use href="#Lr" x="552"/></g><g id="k28_11"><use href="#Lb" x="604"/></g><g id="k28_12"><use href="#Lb" x="656"/></g><g id="k28_13"><use href="#Lb" x="708"/></g><g id="k28_14"><use href="#Lb" x="760"/></g></g>
<g id="row29" transform="translate(0,1518)"><g id="k29_1"><use href="#Rb" x="84"/></g><g id="k29_2"><use href="#Rb" x="136"/></g><g id="k29_3"><use href="#Rr" x="188"/></g><g id="k29_4"><use href="#Rg" x="240"/></g><g id="k29_5"><use href="#Rg" x="292"/></g><g id="k29_6"><use href="#Rg" x="344"/></g><g id="k29_7"><use href="#Rg" x="396"/></g><g id="k29_8"><use href="#Rg" x="448"/></g><g id="k29_9"><use href="#Rg" x="500"/></g><g id="k29_10"><use href="#Rg" x="552"/></g><g id="k29_11"><use href="#Rr" x="604"/></g><g id="k29_12"><use href="#Rb" x="656"/></g><g id="k29_13"><use href="#Rb" x="708"/></g><g id="k29_14"><use href="#Rb" x="760"/></g></g>
<g id="row30" transform="translate(0,1570)"><g id="k30_1"><use href="#Lb" x="84"/></g><g id="k30_2"><use href="#Lb" x="136"/></g><g id="k30_3"><use href="#Lr" x="188"/></g><g id="k30_4"><use href="#Lg" x="240"/></g><g id="k30_5"><use href="#Lg" x="292"/></g><g id="k30_6"><use href="#Lg" x="344"/></g><g id="k30_7"><use href="#Lr" x="396"/></g><g id="k30_8"><use href="#Lr" x="448"/></g><g id="k30_9"><use href="#Lg" x="500"/></g><g id="k30_10"><use href="#Lg" x="552"/></g><g id="k30_11"><use href="#Lr" x="604"/></g><g id="k30_12"><use href="#Lb" x="656"/></g><g id="k30_13"><use href="#Lb" x="708"/></g><g id="k30_14"><use href="#Lb" x="760"/></g></g>
<g id="row31" transform="translate(0,1622)"><g id="k31_1"><use href="#Rb" x="84"/></g><g id="k31_2"><use href="#Rb" x="136"/></g><g id="k31_3"><use href="#Rb" x="188"/></g><g id="k31_4"><use href="#Rr" x="240"/></g><g id="k31_5"><use href="#Rg" x="292"/></g><g id="k31_6"><use href="#Rr" x="344"/></g><g id="k31_7"><use href="#Rw" x="396"/></g><g id="k31_8"><use href="#Rw" x="448"/></g><g id="k31_9"><use href="#Rr" x="500"/></g><g id="k31_10"><use href="#Rg" x="552"/></g><g id="k31_11"><use href="#Rg" x="604"/></g><g id="k31_12"><use href="#Rr" x="656"/></g><g id="k31_13"><use href="#Rb" x="708"/></g><g id="k31_14"><use href="#Rb" x="760"/></g></g>
<g id="row32" transform="translate(0,1674)"><g id="k32_1"><use href="#Lb" x="84"/></g><g id="k32_2"><use href="#Lb" x="136"/></g><g id="k32_3"><use href="#Lb" x="188"/></g><g id="k32_4"><use href="#Lr" x="240"/></g><g id="k32_5"><use href="#Lg" x="292"/></g><g id="k32_6"><use href="#Lr" x="344"/></g><g id="k32_7"><use href="#Lw" x="396"/></g><g id="k32_8"><use href="#Lw" x="448"/></g><g id="k32_9"><use href="#Lr" x="500"/></g><g id="k32_10"><use href="#Lg" x="552"/></g><g id="k32_11"><use href="#Lg" x="604"/></g><g id="k32_12"><use href="#Lr" x="656"/></g><g id="k32_13"><use href="#Lb" x="708"/></g><g id="k32_14"><use href="#Lb" x="760"/></g></g>
<g id="row33" transform="translate(0,1726)"><g id="k33_1"><use href="#Rb" x="84"/></g><g id="k33_2"><use href="#Rb" x="136"/></g><g id="k33_3"><use href="#Rb" x="188"/></g><g id="k33_4"><use href="#Rr" x="240"/></g><g id="k33_5"><use href="#Rg" x="292"/></g><g id="k33_6"><use href="#Rg" x="344"/></g><g id="k33_7"><use href="#Rr" x="396"/></g><g id="k33_8"><use href="#Rr" x="448"/></g><g id="k33_9"><use href="#Rg" x="500"/></g><g id="k33_10"><use href="#Rg" x="552"/></g><g id="k33_11"><use href="#Rr" x="604"/></g><g id="k33_12"><use href="#Rb" x="656"/></g><g id="k33_13"><use href="#Rb" x="708"/></g><g id="k33_14"><use href="#Rb" x="760"/></g></g>
<g id="row34" transform="translate(0,1778)"><g id="k34_1"><use href="#Lb" x="84"/></g><g id="k34_2"><use href="#Lb" x="136"/></g><g id="k34_3"><use href="#Lb" x="188"/></g><g id="k34_4"><use href="#Lr" x="240"/></g><g id="k34_5"><use href="#Lg" x="292"/></g><g id="k34_6"><use href="#Lg" x="344"/></g><g id="k34_7"><use href="#Lg" x="396"/></g><g id="k34_8"><use href="#Lg" x="448"/></g><g id="k34_9"><use href="#Lg" x="500"/></g><g id="k34_10"><use href="#Lg" x="552"/></g><g id="k34_11"><use href="#Lr" x="604"/></g><g id="k34_12"><use href="#Lb" x="656"/></g><g id="k34_13"><use href="#Lb" x="708"/></g><g id="k34_14"><use href="#Lb" x="760"/></g></g>
<g id="row35" transform="translate(0,1830)"><g id="k35_1"><use href="#Rb" x="84"/></g><g id="k35_2"><use href="#Rb" x="136"/></g><g id="k35_3"><use href="#Rb" x="188"/></g><g id="k35_4"><use href="#Rb" x="240"/></g><g id="k35_5"><use href="#Rr" x="292"/></g><g id="k35_6"><use href="#Rr" x="344"/></g><g id="k35_7"><use href="#Rg" x="396"/></g><g id="k35_8"><use href="#Rg" x="448"/></g><g id="k35_9"><use href="#Rr" x="500"/></g><g id="k35_10"><use href="#Rr" x="552"/></g><g id="k35_11"><use href="#Rb" x="604"/></g><g id="k35_12"><use href="#Rb" x="656"/></g><g id="k35_13"><use href="#Rb" x="708"/></g><g id="k35_14"><use href="#Rb" x="760"/></g></g>
<g id="row36" transform="translate(0,1882)"><g id="k36_1"><use href="#Lb" x="84"/></g><g id="k36_2"><use href="#Lb" x="136"/></g><g id="k36_3"><use href="#Lb" x="188"/></g><g id="k36_4"><use href="#Lb" x="240"/></g><g id="k36_5"><use href="#Lb" x="292"/></g><g id="k36_6"><use href="#Lb" x="344"/></g><g id="k36_7"><use href="#Lr" x="396"/></g><g id="k36_8"><use href="#Lr" x="448"/></g><g id="k36_9"><use href="#Lb" x="500"/></g><g id="k36_10"><use href="#Lb" x="552"/></g><g id="k36_11"><use href="#Lb" x="604"/></g><g id="k36_12"><use href="#Lb" x="656"/></g><g id="k36_13"><use href="#Lb" x="708"/></g><g id="k36_14"><use href="#Lb" x="760"/></g></g>
<g id="row37" transform="translate(0,1934)"><g id="k37_1"><use href="#Rb" x="84"/></g><g id="k37_2"><use href="#Rb" x="136"/></g><g id="k37_3"><use href="#Rb" x="188"/></g><g id="k37_4"><use href="#Rb" x="240"/></g><g id="k37_5"><use href="#Rb" x="292"/></g><g id="k37_6"><use href="#Rb" x="344"/></g><g id="k37_7"><use href="#Rb" x="396"/></g><g id="k37_8"><use href="#Rb" x="448"/></g><g id="k37_9"><use href="#Rb" x="500"/></g><g id="k37_10"><use href="#Rb" x="552"/></g><g id="k37_11"><use href="#Rb" x="604"/></g><g id="k37_12"><use href="#Rb" x="656"/></g><g id="k37_13"><use href="#Rb" x="708"/></g><g id="k37_14"><use href="#Rb" x="760"/></g></g>
<g id="row38" transform="translate(0,1986)"><g id="k38_1"><use href="#Lb" x="84"/></g><g id="k38_2"><use href="#Lb" x="136"/></g><g id="k38_3"><use href="#Lb" x="188"/></g><g id="k38_4"><use href="#Lb" x="240"/></g><g id="k38_5"><use href="#Lb" x="292"/></g><g id="k38_6"><use href="#Lb" x="344"/></g><g id="k38_7"><use href="#Lb" x="396"/></g><g id="k38_8"><use href="#Lb" x="448"/></g><g id="k38_9"><use href="#Lb" x="500"/></g><g id="k38_10"><use href="#Lb" x="552"/></g><g id="k38_11"><use href="#Lb" x="604"/></g><g id="k38_12"><use href="#Lb" x="656"/></g><g id="k38_13"><use href="#Lb" x="708"/></g><g id="k38_14"><use href="#Lb" x="760"/></g></g>
<g id="row39" transform="translate(0,2038)"><g id="k39_1"><use href="#Rb" x="84"/></g><g id="k39_2"><use href="#Rb" x="136"/></g><g id="k39_3"><use href="#Rb" x="188"/></g><g id="k39_4"><use href="#Rb" x="240"/></g><g id="k39_5"><use href="#Rb" x="292"/></g><g id="k39_6"><use href="#Rb" x="344"/></g><g id="k39_7"><use href="#Rr" x="396"/></g><g id="k39_8"><use href="#Rr" x="448"/></g><g id="k39_9"><use href="#Rb" x="500"/></g><g id="k39_10"><use href="#Rb" x="552"/></g><g id="k39_11"><use href="#Rb" x="604"/></g><g id="k39_12"><use href="#Rb" x="656"/></g><g id="k39_13"><use href="#Rb" x="708"/></g><g id="k39_14"><use href="#Rb" x="760"/></g></g>
<g id="row40" transform="translate(0,2090)"><g id="k40_1"><use href="#Lb" x="84"/></g><g id="k40_2"><use href="#Lb" x="136"/></g><g id="k40_3"><use href="#Lb" x="188"/></g><g id="k40_4"><use href="#Lb" x="240"/></g><g id="k40_5"><use href="#Lb" x="292"/></g><g id="k40_6"><use href="#Lr" x="344"/></g><g id="k40_7"><use href="#Lg" x="396"/></g><g id="k40_8"><use href="#Lg" x="448"/></g><g id="k40_9"><use href="#Lr" x="500"/></g><g id="k40_10"><use href="#Lb" x="552"/></g><g id="k40_11"><use href="#Lb" x="604"/></g><g id="k40_12"><use href="#Lb" x="656"/></g><g id="k40_13"><use href="#Lb" x="708"/></g><g id="k40_14"><use href="#Lb" x="760"/></g></g>
<g id="row41" transform="translate(0,2142)"><g id="k41_1"><use href="#Rb" x="84"/></g><g id="k41_2"><use href="#Rb" x="136"/></g><g id="k41_3"><use href="#Rb" x="188"/></g><g id="k41_4"><use href="#Rr" x="240"/></g><g id="k41_5"><use href="#Rr" x="292"/></g><g id="k41_6"><use href="#Rg" x="344"/></g><g id="k41_7"><use href="#Rg" x="396"/></g><g id="k41_8"><use href="#Rg" x="448"/></g><g id="k41_9"><use href="#Rg" x="500"/></g><g id="k41_10"><use href="#Rr" x="552"/></g><g id="k41_11"><use href="#Rr" x="604"/></g><g id="k41_12"><use href="#Rb" x="656"/></g><g id="k41_13"><use href="#Rb" x="708"/></g><g id="k41_14"><use href="#Rb" x="760"/></g></g>
<g id="row42" transform="translate(0,2194)"><g id="k42_1"><use href="#Lb" x="84"/></g><g id="k42_2"><use href="#Lb" x="136"/></g><g id="k42_3"><use href="#Lr" x="188"/></g><g id="k42_4"><use href="#Lg" x="240"/></g><g id="k42_5"><use href="#Lg" x="292"/></g><g id="k42_6"><use href="#Lg" x="344"/></g><g id="k42_7"><use href="#Lr" x="396"/></g><g id="k42_8"><use href="#Lr" x="448"/></g><g id="k42_9"><use href="#Lg" x="500"/></g><g id="k42_10"><use href="#Lg" x="552"/></g><g id="k42_11"><use href="#Lg" x="604"/></g><g id="k42_12"><use href="#Lr" x="656"/></g><g id="k42_13"><use href="#Lb" x="708"/></g><g id="k42_14"><use href="#Lb" x="760"/></g></g>
<g id="row43" transform="translate(0,2246)"><g id="k43_1"><use href="#Rb" x="84"/></g><g id="k43_2"><use href="#Rb" x="136"/></g><g id="k43_3"><use href="#Rr" x="188"/></g><g id="k43_4"><use href="#Rg" x="240"/></g><g id="k43_5"><use href="#Rg" x="292"/></g><g id="k43_6"><use href="#Rr" x="344"/></g><g id="k43_7"><use href="#Rw" x="396"/></g><g id="k43_8"><use href="#Rw" x="448"/></g><g id="k43_9"><use href="#Rr" x="500"/></g><g id="k43_10"><use href="#Rg" x="552"/></g><g id="k43_11"><use href="#Rg" x="604"/></g><g id="k43_12"><use href="#Rr" x="656"/></g><g id="k43_13"><use href="#Rb" x="708"/></g><g id="k43_14"><use href="#Rb" x="760"/></g></g>
<g id="row44" transform="translate(0,2298)"><g id="k44_1"><use href="#Lb" x="84"/></g><g id="k44_2"><use href="#Lb" x="136"/></g><g id="k44_3"><use href="#Lb" x="188"/></g><g id="k44_4"><use href="#Lr" x="240"/></g><g id="k44_5"><use href="#Lg" x="292"/></g><g id="k44_6"><use href="#Lr" x="344"/></g><g id="k44_7"><use href="#Lw" x="396"/></g><g id="k44_8"><use href="#Lw" x="448"/></g><g id="k44_9"><use href="#Lr" x="500"/></g><g id="k44_10"><use href="#Lg" x="552"/></g><g id="k44_11"><use href="#Lg" x="604"/></g><g id="k44_12"><use href="#Lr" x="656"/></g><g id="k44_13"><use href="#Lb" x="708"/></g><g id="k44_14"><use href="#Lb" x="760"/></g></g>
<g id="row45" transform="translate(0,2350)"><g id="k45_1"><use href="#Rb" x="84"/></g><g id="k45_2"><use href="#Rb" x="136"/></g><g id="k45_3"><use href="#Rb" x="188"/></g><g id="k45_4"><use href="#Rr" x="240"/></g><g id="k45_5"><use href="#Rg" x="292"/></g><g id="k45_6"><use href="#Rg" x="344"/></g><g id="k45_7"><use href="#Rr" x="396"/></g><g id="k45_8"><use href="#Rr" x="448"/></g><g id="k45_9"><use href="#Rg" x="500"/></g><g id="k45_10"><use href="#Rg" x="552"/></g><g id="k45_11"><use href="#Rr" x="604"/></g><g id="k45_12"><use href="#Rb" x="656"/></g><g id="k45_13"><use href="#Rb" x="708"/></g><g id="k45_14"><use href="#Rb" x="760"/></g></g>
<g id="row46" transform="translate(0,2402)"><g id="k46_1"><use href="#Lb" x="84"/></g><g id="k46_2"><use href="#Lb" x="136"/></g><g id="k46_3"><use href="#Lb" x="188"/></g><g id="k46_4"><use href="#Lr" x="240"/></g><g id="k46_5"><use href="#Lg" x="292"/></g><g id="k46_6"><use href="#Lg" x="344"/></g><g id="k46_7"><use href="#Lg" x="396"/></g><g id="k46_8"><use href="#Lg" x="448"/></g><g id="k46_9"><use href="#Lg" x="500"/></g><g id="k46_10"><use href="#Lr" x="552"/></g><g id="k46_11"><use href="#Lb" x="604"/></g><g id="k46_12"><use href="#Lb" x="656"/></g><g id="k46_13"><use href="#Lb" x="708"/></g><g id="k46_14"><use href="#Lb" x="760"/></g></g>
<g id="row47" transform="translate(0,2454)"><g id="k47_1"><use href="#Rb" x="84"/></g><g id="k47_2"><use href="#Rb" x="136"/></g><g id="k47_3"><use href="#Rb" x="188"/></g><g id="k47_4"><use href="#Rb" x="240"/></g><g id="k47_5"><use href="#Rr" x="292"/></g><g id="k47_6"><use href="#Rr" x="344"/></g><g id="k47_7"><use href="#Rr" x="396"/></g><g id="k47_8"><use href="#Rg" x="448"/></g><g id="k47_9"><use href="#Rg" x="500"/></g><g id="k47_10"><use href="#Rr" x="552"/></g><g id="k47_11"><use href="#Rb" x="604"/></g><g id="k47_12"><use href="#Rb" x="656"/></g><g id="k47_13"><use href="#Rb" x="708"/></g><g id="k47_14"><use href="#Rb" x="760"/></g></g>
<g id="row48" transform="translate(0,2506)"><g id="k48_1"><use href="#Lb" x="84"/></g><g id="k48_2"><use href="#Lb" x="136"/></g><g id="k48_3"><use href="#Lb" x="188"/></g><g id="k48_4"><use href="#Lb" x="240"/></g><g id="k48_5"><use href="#Lb" x="292"/></g><g id="k48_6"><use href="#Lb" x="344"/></g><g id="k48_7"><use href="#Lb" x="396"/></g><g id="k48_8"><use href="#Lr" x="448"/></g><g id="k48_9"><use href="#Lr" x="500"/></g><g id="k48_10"><use href="#Lb" x="552"/></g><g id="k48_11"><use href="#Lb" x="604"/></g><g id="k48_12"><use href="#Lb" x="656"/></g><g id="k48_13"><use href="#Lb" x="708"/></g><g id="k48_14"><use href="#Lb" x="760"/></g></g>
<g id="row49" transform="translate(0,2558)"><g id="k49_1"><use href="#Rb" x="84"/></g><g id="k49_2"><use href="#Rb" x="136"/></g><g id="k49_3"><use href="#Rb" x="188"/></g><g id="k49_4"><use href="#Rb" x="240"/></g><g id="k49_5"><use href="#Rb" x="292"/></g><g id="k49_6"><use href="#Rb" x="344"/></g><g id="k49_7"><use href="#Rb" x="396"/></g><g id="k49_8"><use href="#Rb" x="448"/></g><g id="k49_9"><use href="#Rb" x="500"/></g><g id="k49_10"><use href="#Rb" x="552"/></g><g id="k49_11"><use href="#Rb" x="604"/></g><g id="k49_12"><use href="#Rb" x="656"/></g><g id="k49_13"><use href="#Rb" x="708"/></g><g id="k49_14"><use href="#Rb" x="760"/></g></g>
<g id="row50" transform="translate(0,2610)"><g id="k50_1"><use href="#Lb" x="84"/></g><g id="k50_2"><use href="#Lb" x="136"/></g><g id="k50_3"><use href="#Lb" x="188"/></g><g id="k50_4"><use href="#Lb" x="240"/></g><g id="k50_5"><use href="#Lb" x="292"/></g><g id="k50_6"><use href="#Lb" x="344"/></g><g id="k50_7"><use href="#Lb" x="396"/></g><g id="k50_8"><use href="#Lb" x="448"/></g><g id="k50_9"><use href="#Lb" x="500"/></g><g id="k50_10"><use href="#Lb" x="552"/></g><g id="k50_11"><use href="#Lb" x="604"/></g><g id="k50_12"><use href="#Lb" x="656"/></g><g id="k50_13"><use href="#Lb" x="708"/></g><g id="k50_14"><use href="#Lb" x="760"/></g></g>
<g id="row51" transform="translate(0,2662)"><g id="k51_1"><use href="#Rb" x="84"/></g><g id="k51_2"><use href="#Rb" x="136"/></g><g id="k51_3"><use href="#Rb" x="188"/></g><g id="k51_4"><use href="#Rb" x="240"/></g><g id="k51_5"><use href="#Rb" x="292"/></g><g id="k51_6"><use href="#Rr" x="344"/></g><g id="k51_7"><use href="#Rr" x="396"/></g><g id="k51_8"><use href="#Rb" x="448"/></g><g id="k51_9"><use href="#Rb" x="500"/></g><g id="k51_10"><use href="#Rb" x="552"/></g><g id="k51_11"><use href="#Rb" x="604"/></g><g id="k51_12"><use href="#Rb" x="656"/></g><g id="k51_13"><use href="#Rb" x="708"/></g><g id="k51_14"><use href="#Rb" x="760"/></g></g>
<g id="row52" transform="translate(0,2714)"><g id="k52_1"><use href="#Lb" x="84"/></g><g id="k52_2"><use href="#Lb" x="136"/></g><g id="k52_3"><use href="#Lb" x="188"/></g><g id="k52_4"><use href="#Lr" x="240"/></g><g id="k52_5"><use href="#Lr" x="292"/></g><g id="k52_6"><use href="#Lg" x="344"/></g><g id="k52_7"><use href="#Lg" x="396"/></g><g id="k52_8"><use href="#Lr" x="448"/></g><g id="k52_9"><use href="#Lr" x="500"/></g><g id="k52_10"><use href="#Lb" x="552"/></g><g id="k52_11"><use href="#Lb" x="604"/></g><g id="k52_12"><use href="#Lb" x="656"/></g><g id="k52_13"><use href="#Lb" x="708"/></g><g id="k52_14"><use href="#Lb" x="760"/></g></g>
<g id="row53" transform="translate(0,2766)"><g id="k53_1"><use href="#Rb" x="84"/></g><g id="k53_2"><use href="#Rb" x="136"/></g><g id="k53_3"><use href="#Rr" x="188"/></g><g id="k53_4"><use href="#Rg" x="240"/></g><g id="k53_5"><use href="#Rg" x="292"/></g><g id="k53_6"><use href="#Rg" x="344"/></g><g id="k53_7"><use href="#Rg" x="396"/></g><g id="k53_8"><use href="#Rg" x="448"/></g><g id="k53_9"><use href="#Rg" x="500"/></g><g id="k53_10"><use href="#Rr" x="552"/></g><g id="k53_11"><use href="#Rb" x="604"/></g><g id="k53_12"><use href="#Rb" x="656"/></g><g id="k53_13"><use href="#Rb" x="708"/></g><g id="k53_14"><use href="#Rb" x="760"/></g></g>
<g id="row54" transform="translate(0,2818)"><g id="k54_1"><use href="#Lb" x="84"/></g><g id="k54_2"><use href="#Lb" x="136"/></g><g id="k54_3"><use href="#Lr" x="188"/></g><g id="k54_4"><use href="#Lg" x="240"/></g><g id="k54_5"><use href="#Lg" x="292"/></g><g id="k54_6"><use href="#Lg" x="344"/></g><g id="k54_7"><use href="#Lr" x="396"/></g><g id="k54_8"><use href="#Lr" x="448"/></g><g id="k54_9"><use href="#Lg" x="500"/></g><g id="k54_10"><use href="#Lg" x="552"/></g><g id="k54_11"><use href="#Lr" x="604"/></g><g id="k54_12"><use href="#Lb" x="656"/></g><g id="k54_13"><use href="#Lb" x="708"/></g><g id="k54_14"><use href="#Lb" x="760"/></g></g>
<g id="row55" transform="translate(0,2870)"><g id="k55_1"><use href="#Rb" x="84"/></g><g id="k55_2"><use href="#Rb" x="136"/></g><g id="k55_3"><use href="#Rr" x="188"/></g><g id="k55_4"><use href="#Rg" x="240"/></g><g id="k55_5"><use href="#Rg" x="292"/></g><g id="k55_6"><use href="#Rr" x="344"/></g><g id="k55_7"><use href="#Rw" x="396"/></g><g id="k55_8"><use href="#Rw" x="448"/></g><g id="k55_9"><use href="#Rr" x="500"/></g><g id="k55_10"><use href="#Rg" x="552"/></g><g id="k55_11"><use href="#Rr" x="604"/></g><g id="k55_12"><use href="#Rb" x="656"/></g><g id="k55_13"><use href="#Rb" x="708"/></g><g id="k55_14"><use href="#Rb" x="760"/></g></g>
<g id="row56" transform="translate(0,2922)"><g id="k56_1"><use href="#Lb" x="84"/></g><g id="k56_2"><use href="#Lb" x="136"/></g><g id="k56_3"><use href="#Lb" x="188"/></g><g id="k56_4"><use href="#Lr" x="240"/></g><g id="k56_5"><use href="#Lg" x="292"/></g><g id="k56_6"><use href="#Lr" x="344"/></g><g id="k56_7"><use href="#Lw" x="396"/></g><g id="k56_8"><use href="#Lw" x="448"/></g><g id="k56_9"><use href="#Lr" x="500"/></g><g id="k56_10"><use href="#Lg" x="552"/></g><g id="k56_11"><use href="#Lg" x="604"/></g><g id="k56_12"><use href="#Lr" x="656"/></g><g id="k56_13"><use href="#Lb" x="708"/></g><g id="k56_14"><use href="#Lb" x="760"/></g></g>
<g id="row57" transform="translate(0,2974)"><g id="k57_1"><use href="#Rb" x="84"/></g><g id="k57_2"><use href="#Rb" x="136"/></g><g id="k57_3"><use href="#Rb" x="188"/></g><g id="k57_4"><use href="#Rr" x="240"/></g><g id="k57_5"><use href="#Rg" x="292"/></g><g id="k57_6"><use href="#Rg" x="344"/></g><g id="k57_7"><use href="#Rr" x="396"/></g><g id="k57_8"><use href="#Rr" x="448"/></g><g id="k57_9"><use href="#Rg" x="500"/></g><g id="k57_10"><use href="#Rg" x="552"/></g><g id="k57_11"><use href="#Rg" x="604"/></g><g id="k57_12"><use href="#Rr" x="656"/></g><g id="k57_13"><use href="#Rb" x="708"/></g><g id="k57_14"><use href="#Rb" x="760"/></g></g>
<g id="row58" transform="translate(0,3026)"><g id="k58_1"><use href="#Lb" x="84"/></g><g id="k58_2"><use href="#Lb" x="136"/></g><g id="k58_3"><use href="#Lb" x="188"/></g><g id="k58_4"><use href="#Lr" x="240"/></g><g id="k58_5"><use href="#Lg" x="292"/></g><g id="k58_6"><use href="#Lg" x="344"/></g><g id="k58_7"><use href="#Lg" x="396"/></g><g id="k58_8"><use href="#Lg" x="448"/></g><g id="k58_9"><use href="#Lg" x="500"/></g><g id="k58_10"><use href="#Lr" x="552"/></g><g id="k58_11"><use href="#Lr" x="604"/></g><g id="k58_12"><use href="#Lb" x="656"/></g><g id="k58_13"><use href="#Lb" x="708"/></g><g id="k58_14"><use href="#Lb" x="760"/></g></g>
<g id="row59" transform="translate(0,3078)"><g id="k59_1"><use href="#Rb" x="84"/></g><g id="k59_2"><use href="#Rb" x="136"/></g><g id="k59_3"><use href="#Rb" x="188"/></g><g id="k59_4"><use href="#Rb" x="240"/></g><g id="k59_5"><use href="#Rr" x="292"/></g><g id="k59_6"><use href="#Rg" x="344"/></g><g id="k59_7"><use href="#Rg" x="396"/></g><g id="k59_8"><use href="#Rr" x="448"/></g><g id="k59_9"><use href="#Rr" x="500"/></g><g id="k59_10"><use href="#Rb" x="552"/></g><g id="k59_11"><use href="#Rb" x="604"/></g><g id="k59_12"><use href="#Rb" x="656"/></g><g id="k59_13"><use href="#Rb" x="708"/></g><g id="k59_14"><use href="#Rb" x="760"/></g></g>
<g id="row60" transform="translate(0,3130)"><g id="k60_1"><use href="#Lb" x="84"/></g><g id="k60_2"><use href="#Lb" x="136"/></g><g id="k60_3"><use href="#Lb" x="188"/></g><g id="k60_4"><use href="#Lb" x="240"/></g><g id="k60_5"><use href="#Lb" x="292"/></g><g id="k60_6"><use href="#Lr" x="344"/></g><g id="k60_7"><use href="#Lr" x="396"/></g><g id="k60_8"><use href="#Lb" x="448"/></g><g id="k60_9"><use href="#Lb" x="500"/></g><g id="k60_10"><use href="#Lb" x="552"/></g><g id="k60_11"><use href="#Lb" x="604"/></g><g id="k60_12"><use href="#Lb" x="656"/></g><g id="k60_13"><use href="#Lb" x="708"/></g><g id="k60_14"><use href="#Lb" x="760"/></g></g>
<g id="row61" transform="translate(0,3182)"><g id="k61_1"><use href="#Rb" x="84"/></g><g id="k61_2"><use href="#Rb" x="136"/></g><g id="k61_3"><use href="#Rb" x="188"/></g><g id="k61_4"><use href="#Rb" x="240"/></g><g id="k61_5"><use href="#Rb" x="292"/></g><g id="k61_6"><use href="#Rb" x="344"/></g><g id="k61_7"><use href="#Rb" x="396"/></g><g id="k61_8"><use href="#Rb" x="448"/></g><g id="k61_9"><use href="#Rb" x="500"/></g><g id="k61_10"><use href="#Rb" x="552"/></g><g id="k61_11"><use href="#Rb" x="604"/></g><g id="k61_12"><use href="#Rb" x="656"/></g><g id="k61_13"><use href="#Rb" x="708"/></g><g id="k61_14"><use href="#Rb" x="760"/></g></g>
<g id="row62" transform="translate(0,3234)"><g id="k62_1"><use href="#Lb" x="84"/></g><g id="k62_2"><use href="#Lb" x="136"/></g><g id="k62_3"><use href="#Lb" x="188"/></g><g id="k62_4"><use href="#Lb" x="240"/></g><g id="k62_5"><use href="#Lb" x="292"/></g><g id="k62_6"><use href="#Lb" x="344"/></g><g id="k62_7"><use href="#Lb" x="396"/></g><g id="k62_8"><use href="#Lb" x="448"/></g><g id="k62_9"><use href="#Lb" x="500"/></g><g id="k62_10"><use href="#Lb" x="552"/></g><g id="k62_11"><use href="#Lb" x="604"/></g><g id="k62_12"><use href="#Lb" x="656"/></g><g id="k62_13"><use href="#Lb" x="708"/></g><g id="k62_14"><use href="#Lb" x="760"/></g></g>
<g id="row63" transform="translate(0,3286)"><g id="k63_1"><use href="#Rb" x="84"/></g><g id="k63_2"><use href="#Rb" x="136"/></g><g id="k63_3"><use href="#Rb" x="188"/></g><g id="k63_4"><use href="#Rb" x="240"/></g><g id="k63_5"><use href="#Rb" x="292"/></g><g id="k63_6"><use href="#Rb" x="344"/></g><g id="k63_7"><use href="#Rr" x="396"/></g><g id="k63_8"><use href="#Rr" x="448"/></g><g id="k63_9"><use href="#Rb" x="500"/></g><g id="k63_10"><use href="#Rb" x="552"/></g><g id="k63_11"><use href="#Rb" x="604"/></g><g id="k63_12"><use href="#Rb" x="656"/></g><g id="k63_13"><use href="#Rb" x="708"/></g><g id="k63_14"><use href="#Rb" x="760"/></g></g>
<g id="row64" transform="translate(0,3338)"><g id="k64_1"><use href="#Lb" x="84"/></g><g id="k64_2"><use href="#Lb" x="136"/></g><g id="k64_3"><use href="#Lb" x="188"/></g><g id="k64_4"><use href="#Lb" x="240"/></g><g id="k64_5"><use href="#Lr" x="292"/></g><g id="k64_6"><use href="#Lr" x="344"/></g><g id="k64_7"><use href="#Lg" x="396"/></g><g id="k64_8"><use href="#Lg" x="448"/></g><g id="k64_9"><use href="#Lr" x="500"/></g><g id="k64_10"><use href="#Lr" x="552"/></g><g id="k64_11"><use href="#Lb" x="604"/></g><g id="k64_12"><use href="#Lb" x="656"/></g><g id="k64_13"><use href="#Lb" x="708"/></g><g id="k64_14"><use href="#Lb" x="760"/></g></g>
<g id="row65" transform="translate(0,3390)"><g id="k65_1"><use href="#Rb" x="84"/></g><g id="k65_2"><use href="#Rb" x="136"/></g><g id="k65_3"><use href="#Rb" x="188"/></g><g id="k65_4"><use href="#Rr" x="240"/></g><g id="k65_5"><use href="#Rg" x="292"/></g><g id="k65_6"><use href="#Rg" x="344"/></g><g id="k65_7"><use href="#Rg" x="396"/></g><g id="k65_8"><use href="#Rg" x="448"/></g><g id="k65_9"><use href="#Rg" x="500"/></g><g id="k65_10"><use href="#Rg" x="552"/></g><g id="k65_11"><use href="#Rr" x="604"/></g><g id="k65_12"><use href="#Rb" x="656"/></g><g id="k65_13"><use href="#Rb" x="708"/></g><g id="k65_14"><use href="#Rb" x="760"/></g></g>
<g id="row66" transform="translate(0,3442)"><g id="k66_1"><use href="#Lb" x="84"/></g><g id="k66_2"><use href="#Lb" x="136"/></g><g id="k66_3"><use href="#Lb" x="188"/></g><g id="k66_4"><use href="#Lr" x="240"/></g><g id="k66_5"><use href="#Lg" x="292"/></g><g id="k66_6"><use href="#Lg" x="344"/></g><g id="k66_7"><use href="#Lr" x="396"/></g><g id="k66_8"><use href="#Lr" x="448"/></g><g id="k66_9"><use href="#Lg" x="500"/></g><g id="k66_10"><use href="#Lg" x="552"/></g><g id="k66_11"><use href="#Lr" x="604"/></g><g id="k66_12"><use href="#Lb" x="656"/></g><g id="k66_13"><use href="#Lb" x="708"/></g><g id="k66_14"><use href="#Lb" x="760"/></g></g>
<g id="row67" transform="translate(0,3494)"><g id="k67_1"><use href="#Rb" x="84"/></g><g id="k67_2"><use href="#Rb" x="136"/></g><g id="k67_3"><use href="#Rr" x="188"/></g><g id="k67_4"><use href="#Rg" x="240"/></g><g id="k67_5"><use href="#Rg" x="292"/></g><g id="k67_6"><use href="#Rr" x="344"/></g><g id="k67_7"><use href="#Rw" x="396"/></g><g id="k67_8"><use href="#Rw" x="448"/></g><g id="k67_9"><use href="#Rr" x="500"/></g><g id="k67_10"><use href="#Rg" x="552"/></g><g id="k67_11"><use href="#Rg" x="604"/></g><g id="k67_12"><use href="#Rr" x="656"/></g><g id="k67_13"><use href="#Rb" x="708"/></g><g id="k67_14"><use href="#Rb" x="760"/></g></g>
<g id="row68" transform="translate(0,3546)"><g id="k68_1"><use href="#Lb" x="84"/></g><g id="k68_2"><use href="#Lb" x="136"/></g><g id="k68_3"><use href="#Lr" x="188"/></g><g id="k68_4"><use href="#Lg" x="240"/></g><g id="k68_5"><use href="#Lg" x="292"/></g><g id="k68_6"><use href="#Lr" x="344"/></g><g id="k68_7"><use href="#Lw" x="396"/></g><g id="k68_8"><use href="#Lw" x="448"/></g><g id="k68_9"><use href="#Lr" x="500"/></g><g id="k68_10"><use href="#Lg" x="552"/></g><g id="k68_11"><use href="#Lg" x="604"/></g><g id="k68_12"><use href="#Lr" x="656"/></g><g id="k68_13"><use href="#Lb" x="708"/></g><g id="k68_14"><use href="#Lb" x="760"/></g></g>
<g id="row69" transform="translate(0,3598)"><g id="k69_1"><use href="#Rb" x="84"/></g><g id="k69_2"><use href="#Rb" x="136"/></g><g id="k69_3"><use href="#Rb" x="188"/></g><g id="k69_4"><use href="#Rr" x="240"/></g><g id="k69_5"><use href="#Rg" x="292"/></g><g id="k69_6"><use href="#Rg" x="344"/></g><g id="k69_7"><use href="#Rr" x="396"/></g><g id="k69_8"><use href="#Rr" x="448"/></g><g id="k69_9"><use href="#Rg" x="500"/></g><g id="k69_10"><use href="#Rg" x="552"/></g><g id="k69_11"><use href="#Rr" x="604"/></g><g id="k69_12"><use href="#Rb" x="656"/></g><g id="k69_13"><use href="#Rb" x="708"/></g><g id="k69_14"><use href="#Rb" x="760"/></g></g>
<g id="row70" transform="translate(0,3650)"><g id="k70_1"><use href="#Lb" x="84"/></g><g id="k70_2"><use href="#Lb" x="136"/></g><g id="k70_3"><use href="#Lb" x="188"/></g><g id="k70_4"><use href="#Lr" x="240"/></g><g id="k70_5"><use href="#Lg" x="292"/></g><g id="k70_6"><use href="#Lg" x="344"/></g><g id="k70_7"><use href="#Lg" x="396"/></g><g id="k70_8"><use href="#Lg" x="448"/></g><g id="k70_9"><use href="#Lg" x="500"/></g><g id="k70_10"><use href="#Lg" x="552"/></g><g id="k70_11"><use href="#Lr" x="604"/></g><g id="k70_12"><use href="#Lb" x="656"/></g><g id="k70_13"><use href="#Lb" x="708"/></g><g id="k70_14"><use href="#Lb" x="760"/></g></g>
<g id="row71" transform="translate(0,3702)"><g id="k71_1"><use href="#Rb" x="84"/></g><g id="k71_2"><use href="#Rb" x="136"/></g><g id="k71_3"><use href="#Rb" x="188"/></g><g id="k71_4"><use href="#Rb" x="240"/></g><g id="k71_5"><use href="#Rr" x="292"/></g><g id="k71_6"><use href="#Rr" x="344"/></g><g id="k71_7"><use href="#Rg" x="396"/></g><g id="k71_8"><use href="#Rg" x="448"/></g><g id="k71_9"><use href="#Rr" x="500"/></g><g id="k71_10"><use href="#Rr" x="552"/></g><g id="k71_11"><use href="#Rb" x="604"/></g><g id="k71_12"><use href="#Rb" x="656"/></g><g id="k71_13"><use href="#Rb" x="708"/></g><g id="k71_14"><use href="#Rb" x="760"/></g></g>
<g id="row72" transform="translate(0,3754)"><g id="k72_1"><use href="#Lb" x="84"/></g><g id="k72_2"><use href="#Lb" x="136"/></g><g id="k72_3"><use href="#Lb" x="188"/></g><g id="k72_4"><use href="#Lb" x="240"/></g><g id="k72_5"><use href="#Lb" x="292"/></g><g id="k72_6"><use href="#Lb" x="344"/></g><g id="k72_7"><use href="#Lr" x="396"/></g><g id="k72_8"><use href="#Lr" x="448"/></g><g id="k72_9"><use href="#Lb" x="500"/></g><g id="k72_10"><use href="#Lb" x="552"/></g><g id="k72_11"><use href="#Lb" x="604"/></g><g id="k72_12"><use href="#Lb" x="656"/></g><g id="k72_13"><use href="#Lb" x="708"/></g><g id="k72_14"><use href="#Lb" x="760"/></g></g>
<g id="row73" transform="translate(0,3806)"><g id="k73_1"><use href="#Rb" x="84"/></g><g id="k73_2"><use href="#Rb" x="136"/></g><g id="k73_3"><use href="#Rb" x="188"/></g><g id="k73_4"><use href="#Rb" x="240"/></g><g id="k73_5"><use href="#Rb" x="292"/></g><g id="k73_6"><use href="#Rb" x="344"/></g><g id="k73_7"><use href="#Rb" x="396"/></g><g id="k73_8"><use href="#Rb" x="448"/></g><g id="k73_9"><use href="#Rb" x="500"/></g><g id="k73_10"><use href="#Rb" x="552"/></g><g id="k73_11"><use href="#Rb" x="604"/></g><g id="k73_12"><use href="#Rb" x="656"/></g><g id="k73_13"><use href="#Rb" x="708"/></g><g id="k73_14"><use href="#Rb" x="760"/></g></g>
<g id="row74" transform="translate(0,3858)"><g id="k74_1"><use href="#Lb" x="84"/></g><g id="k74_2"><use href="#Lb" x="136"/></g><g id="k74_3"><use href="#Lb" x="188"/></g><g id="k74_4"><use href="#Lb" x="240"/></g><g id="k74_5"><use href="#Lb" x="292"/></g><g id="k74_6"><use href="#Lb" x="344"/></g><g id="k74_7"><use href="#Lb" x="396"/></g><g id="k74_8"><use href="#Lb" x="448"/></g><g id="k74_9"><use href="#Lb" x="500"/></g><g id="k74_10"><use href="#Lb" x="552"/></g><g id="k74_11"><use href="#Lb" x="604"/></g><g id="k74_12"><use href="#Lb" x="656"/></g><g id="k74_13"><use href="#Lb" x="708"/></g><g id="k74_14"><use href="#Lb" x="760"/></g></g>
</g>
<text x="421" y="1964" font-size="14" font-weight="bold" fill="#4a4a4a" stroke="#fff" stroke-width="2" paint-order="stroke" text-anchor="middle" font-family="Liberation Sans, Arial, sans-serif">BRACELETBOOK.COM</text>
</svg>
